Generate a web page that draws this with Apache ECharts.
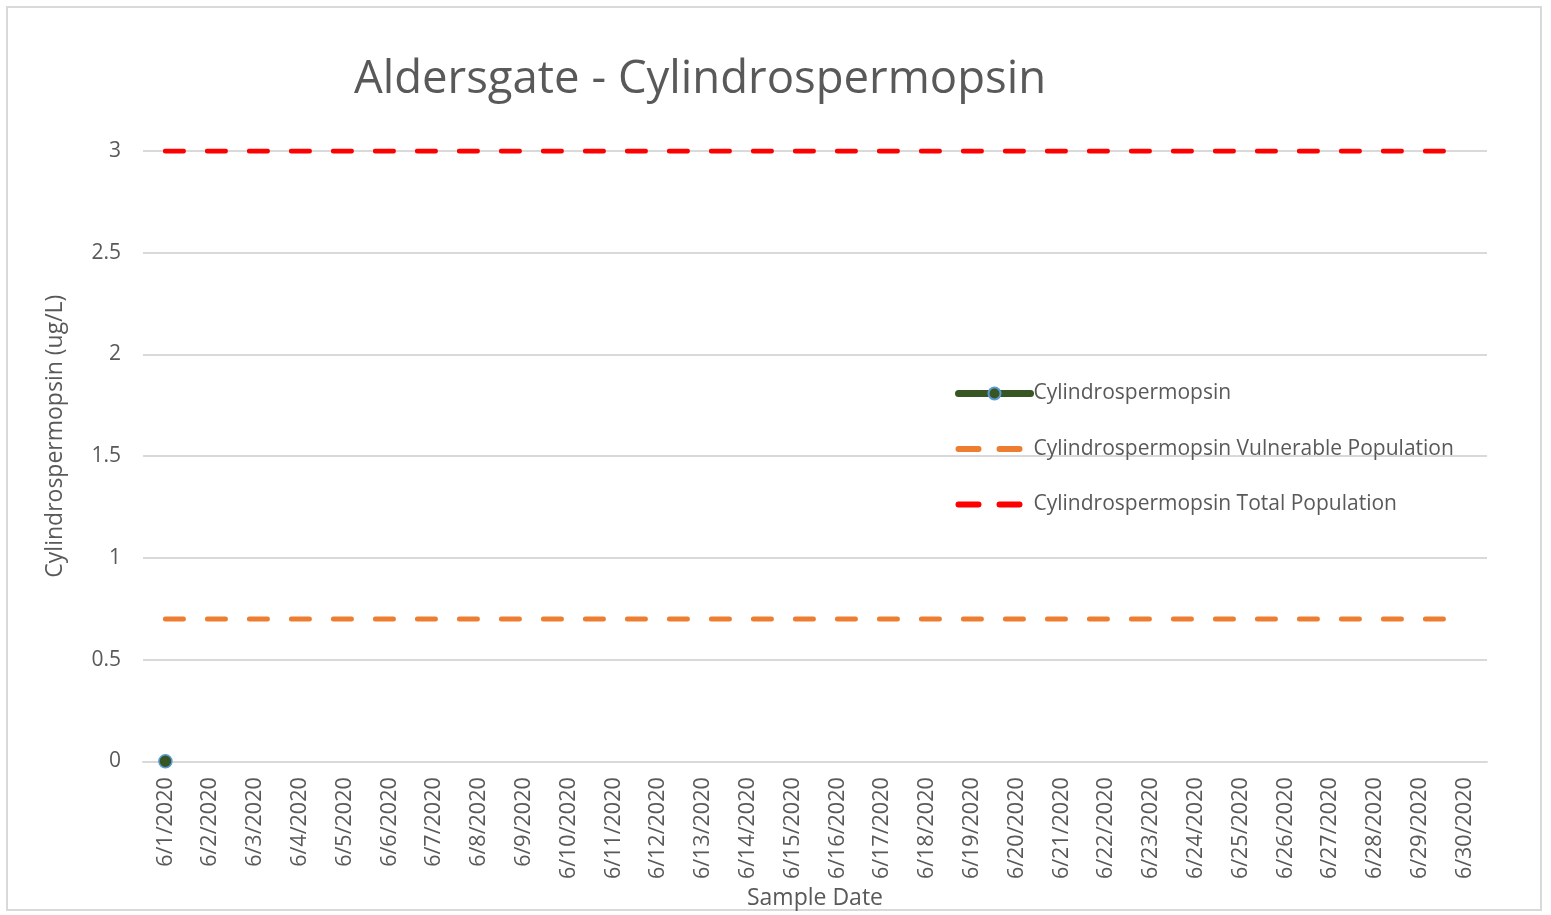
<!DOCTYPE html>
<html>
<head>
<meta charset="utf-8">
<script src="https://cdn.jsdelivr.net/npm/echarts@6/dist/echarts.min.js"></script>
<style>
  html, body { margin: 0; padding: 0; background: #fff; }
  #chart { width: 1551px; height: 915px; }
</style>
</head>
<body>
<div id="chart"></div>
<script>
// Sample dates, June 2020
const dates = [
    '6/1/2020', '6/2/2020', '6/3/2020', '6/4/2020', '6/5/2020', '6/6/2020',
    '6/7/2020', '6/8/2020', '6/9/2020', '6/10/2020', '6/11/2020', '6/12/2020',
    '6/13/2020', '6/14/2020', '6/15/2020', '6/16/2020', '6/17/2020', '6/18/2020',
    '6/19/2020', '6/20/2020', '6/21/2020', '6/22/2020', '6/23/2020', '6/24/2020',
    '6/25/2020', '6/26/2020', '6/27/2020', '6/28/2020', '6/29/2020', '6/30/2020'
];
// measured value: only the first sample
const measured = [0];
const vulnerable = [0.7, 0.7, 0.7, 0.7, 0.7, 0.7, 0.7, 0.7, 0.7, 0.7, 0.7, 0.7, 0.7, 0.7, 0.7,
    0.7, 0.7, 0.7, 0.7, 0.7, 0.7, 0.7, 0.7, 0.7, 0.7, 0.7, 0.7, 0.7, 0.7, 0.7];
const totalPop = [3, 3, 3, 3, 3, 3, 3, 3, 3, 3, 3, 3, 3, 3, 3,
    3, 3, 3, 3, 3, 3, 3, 3, 3, 3, 3, 3, 3, 3, 3];
const yTicks = { min: 0, max: 3, interval: 0.5 };

const font = 'Open Sans';
const textColor = '#595959';
const dash = [18, 24];

const chart = echarts.init(document.getElementById('chart'));
chart.setOption({
    animation: false,
    textStyle: { fontFamily: font },
    graphic: [{
        type: 'rect',
        shape: { x: 7, y: 7, width: 1534, height: 903 },
        style: { fill: 'none', stroke: '#d9d9d9', lineWidth: 2 },
        silent: true
    }],
    title: {
        text: 'Aldersgate - Cylindrospermopsin',
        left: 695,
        textAlign: 'center',
        top: 52,
        textStyle: { fontFamily: font, fontSize: 45.5, fontWeight: 'normal', color: textColor }
    },
    legend: {
        orient: 'vertical',
        left: 950,
        top: 378,
        itemWidth: 72,
        itemHeight: 15,
        itemGap: 34.5,
        textStyle: { fontFamily: font, fontSize: 21, color: textColor, padding: [0, 0, 0, -2] },
        data: [
            {
                name: 'Cylindrospermopsin',
                lineStyle: { width: 7, color: '#375623', cap: 'round' }
            },
            {
                name: 'Cylindrospermopsin Vulnerable Population',
                itemStyle: { opacity: 0 },
                lineStyle: { width: 6, color: '#ed7d31', type: [20, 21], cap: 'round' }
            },
            {
                name: 'Cylindrospermopsin Total Population',
                itemStyle: { opacity: 0 },
                lineStyle: { width: 6, color: '#ff0000', type: [20, 21], cap: 'round' }
            }
        ]
    },
    grid: { left: 143, right: 64, top: 151, bottom: 152 },
    xAxis: {
        type: 'category',
        data: dates,
        boundaryGap: true,
        name: 'Sample Date',
        nameLocation: 'middle',
        nameGap: 117,
        nameTextStyle: { fontFamily: font, fontSize: 23, color: textColor },
        axisLine: { lineStyle: { color: '#d9d9d9', width: 2 } },
        axisTick: { show: false },
        axisLabel: { rotate: 90, interval: 0, fontSize: 21.5, color: textColor, margin: 16 }
    },
    yAxis: {
        type: 'value',
        min: yTicks.min,
        max: yTicks.max,
        interval: yTicks.interval,
        name: 'Cylindrospermopsin (ug/L)',
        nameLocation: 'middle',
        nameGap: 76,
        nameTextStyle: { fontFamily: font, fontSize: 23, color: textColor, padding: [0, 0, 0, 40] },
        axisLine: { show: false },
        axisTick: { show: false },
        axisLabel: { fontSize: 21, color: textColor, margin: 22 },
        splitLine: { lineStyle: { color: '#d9d9d9', width: 2 } }
    },
    series: [
        {
            name: 'Cylindrospermopsin Vulnerable Population',
            type: 'line',
            data: vulnerable,
            symbol: 'none',
            itemStyle: { color: '#ed7d31' },
            lineStyle: { color: '#ed7d31', width: 5, type: dash, cap: 'round' }
        },
        {
            name: 'Cylindrospermopsin Total Population',
            type: 'line',
            data: totalPop,
            symbol: 'none',
            itemStyle: { color: '#ff0000' },
            lineStyle: { color: '#ff0000', width: 5, type: dash, cap: 'round' }
        },
        {
            name: 'Cylindrospermopsin',
            type: 'line',
            data: measured,
            symbol: 'circle',
            symbolSize: 13,
            itemStyle: { color: '#375623', borderColor: '#5b9bd5', borderWidth: 1.5 },
            lineStyle: { color: '#375623', width: 6 },
            z: 5
        }
    ]
});
window.addEventListener('resize', () => chart.resize());
</script>
</body>
</html>
